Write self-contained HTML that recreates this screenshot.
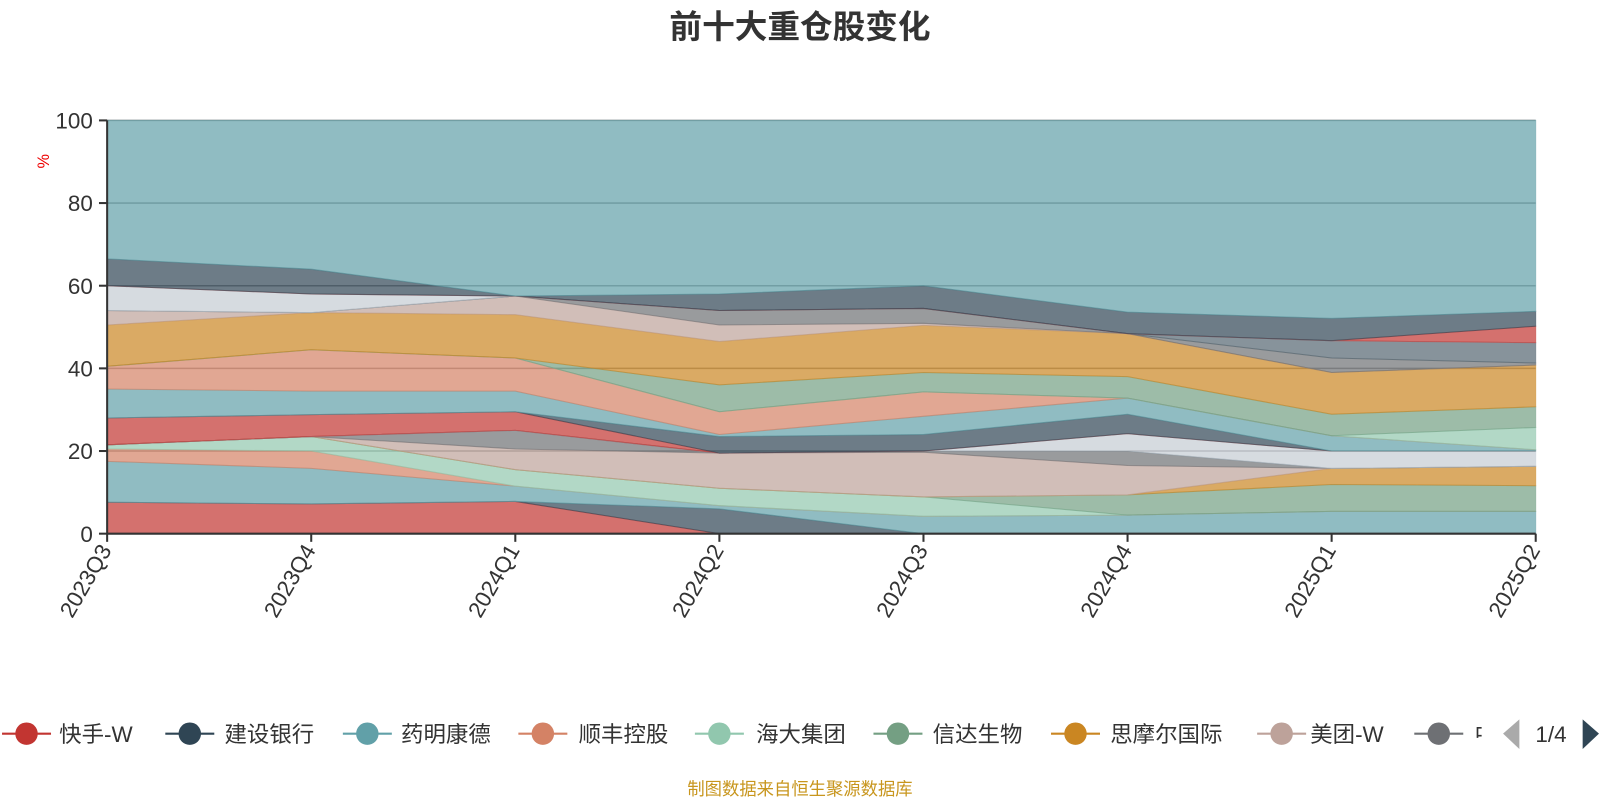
<!DOCTYPE html>
<html><head><meta charset="utf-8">
<style>
body{margin:0;background:#fff;width:1600px;height:800px;overflow:hidden;font-family:"Liberation Sans","Noto Sans CJK SC",sans-serif;}
svg text{font-family:"Liberation Sans","Noto Sans CJK SC",sans-serif;}
</style></head>
<body>
<svg id="chart" width="1600" height="800" viewBox="0 0 1568 784" xmlns="http://www.w3.org/2000/svg">
<text x="784" y="37" text-anchor="middle" font-size="32" font-weight="bold" fill="#333">前十大重仓股变化</text>
<text x="48" y="158" font-size="16" fill="#e00" transform="rotate(-90 48 158)" text-anchor="middle">%</text>
<g id="grid"></g>
<g id="areas"></g>
<g id="axes"></g>
<g id="legend"></g>
<text x="784" y="779" text-anchor="middle" font-size="17" fill="#c8961e">制图数据来自恒生聚源数据库</text>
</svg>
<script>
const categories=["2023Q3","2023Q4","2024Q1","2024Q2","2024Q3","2024Q4","2025Q1","2025Q2"];
const yTicks=[0,20,40,60,80,100];
const seriesNames=["快手-W","建设银行","药明康德","顺丰控股","海大集团","信达生物","思摩尔国际","美团-W","中国平安","腾讯控股","中国海洋石油","股票12","股票13","股票14","股票15","股票16","股票17","股票18","股票19","股票20","股票21","股票22","股票23","股票24","其他"];
const s0=[7.6,7.2,7.8,0,0,0,0,0];
const s1=[0,0,0,6,0,0,0,0];
const s2=[9.9,8.6,3.7,0.8,4.2,4.5,5.4,5.4];
const s3=[3.0,4.2,0,0,0,0,0,0];
const s4=[1.0,3.5,4.0,4.2,4.7,0,0,0];
const s5=[0,0,0,0,0,4.9,6.5,6.2];
const s6=[0,0,0,0,0,0,3.9,4.7];
const s7=[0,0,5,8.5,10.8,7.1,0,0];
const s8=[0,0,4.5,0,0.3,3.5,0,0];
const s9=[0,0,0,0,0,0,0,0];
const s10=[0,0,0,0,0,4.2,4.2,3.7];
const s11=[6.5,5.3,4.5,0,0,0,0,0];
const s12=[0,0,0,4,4,4.7,0,0];
const s13=[7,5.7,5,0.5,4.4,3.9,3.7,0.3];
const s14=[5.5,10,8,5.5,5.9,0,0,0];
const s15=[0,0,0,0,0,0,0,5.4];
const s16=[0,0,0,6.5,4.7,5.2,5.2,5];
const s17=[10,9,10.5,10.5,11.4,10.4,10.1,10.1];
const s18=[3.5,0,4.5,4,0.5,0,0,0];
const s19=[0,0,0,3.5,3.6,0,3.5,0.5];
const s20=[0,0,0,0,0,0,4.2,4.9];
const s21=[6,4.5,0,0,0,0,0,0];
const s22=[0,0,0,0,0,0,0,4];
const s23=[6.5,6,0,4,5.5,5.2,5.4,3.6];
const s24=[33.5,36,42.5,42,40,46.4,47.9,46.2];
const seriesValues=[s0,s1,s2,s3,s4,s5,s6,s7,s8,s9,s10,s11,s12,s13,s14,s15,s16,s17,s18,s19,s20,s21,s22,s23,s24];
const palette=['#c23531','#2f4554','#61a0a8','#d48265','#91c7ae','#749f83','#ca8622','#bda29a','#6e7074','#546570','#c4ccd3'];
const NS="http://www.w3.org/2000/svg";
const X0=105,X1=1505,Y0=523,Y1=118;
function xScale(i){return X0+(X1-X0)*i/(categories.length-1);}
function yScale(v){return Y0-(Y0-Y1)*Math.min(v,100)/100;}
function mk(tag,attrs,parent){const e=document.createElementNS(NS,tag);for(const k in attrs)e.setAttribute(k,attrs[k]);parent.appendChild(e);return e;}
const grid=document.getElementById('grid'),areas=document.getElementById('areas'),axes=document.getElementById('axes'),legend=document.getElementById('legend');
yTicks.forEach(t=>{
  if(t>0){const l=mk('line',{x1:X0,x2:X1,y1:yScale(t),y2:yScale(t),stroke:'#999','stroke-width':1.5},grid);
  
  }
  const tk=mk('line',{x1:X0-8,x2:X0,y1:yScale(t),y2:yScale(t),stroke:'#333','stroke-width':2},axes);
  
  
  const tx=mk('text',{x:X0-14,y:yScale(t)+8,'text-anchor':'end','font-size':22,fill:'#333'},axes);
  tx.textContent=t;
  
  
});
let base=categories.map(()=>0);
seriesValues.forEach((vals,si)=>{
  const top=vals.map((v,i)=>base[i]+v);
  let d='M'+top.map((v,i)=>xScale(i)+','+yScale(v)).join(' L');
  for(let i=categories.length-1;i>=0;i--)d+=' L'+xScale(i)+','+yScale(base[i]);
  d+='Z';
  const c=palette[si%palette.length];
  const p=mk('path',{d:d,fill:c,'fill-opacity':0.7,stroke:c,'stroke-opacity':0.5,'stroke-width':1},areas);
  
  
  base=top;
});
mk('line',{x1:X0,x2:X0,y1:Y1,y2:Y0,stroke:'#333','stroke-width':2},axes);
mk('line',{x1:X0,x2:X1,y1:Y0,y2:Y0,stroke:'#333','stroke-width':2},axes);
categories.forEach((c,i)=>{
  const x=xScale(i);
  const tk=mk('line',{x1:x,x2:x,y1:Y0,y2:Y0+8,stroke:'#333','stroke-width':2},axes);
  
  
  const t=mk('text',{x:x+5,y:Y0+16,'text-anchor':'end','font-size':22,fill:'#333',transform:'rotate(-60 '+(x+5)+' '+(Y0+16)+')'},axes);
  t.textContent=c;
  
  
});
const legendCircleX=[26,186,360,532,705,880,1054,1256,1410];
const legendTextX=[58,220,393,567,741,914,1088,1284,1445];
for(let i=0;i<9;i++){
  const g=mk('g',{},legend);
  
  
  const c=palette[i];
  mk('line',{x1:legendCircleX[i]-24,x2:legendCircleX[i]+24,y1:719,y2:719,stroke:c,'stroke-width':2},g);
  mk('circle',{cx:legendCircleX[i],cy:719,r:11,fill:c},g);
  const t=mk('text',{x:legendTextX[i],y:727,'font-size':22,fill:'#333'},g);
  t.textContent=i<8?seriesNames[i]:'中';
}
mk('rect',{x:1452,y:700,width:20,height:40,fill:'#fff'},legend);
const pl=mk('path',{d:'M1489,705 L1473,719 L1489,734Z',fill:'#aaa'},legend);


const pt=mk('text',{x:1520,y:727,'font-size':22,fill:'#333','text-anchor':'middle'},legend);
pt.textContent='1/4';


const pn=mk('path',{d:'M1551,705 L1567,719 L1551,734Z',fill:'#2f4554'},legend);


</script>
</body></html>
